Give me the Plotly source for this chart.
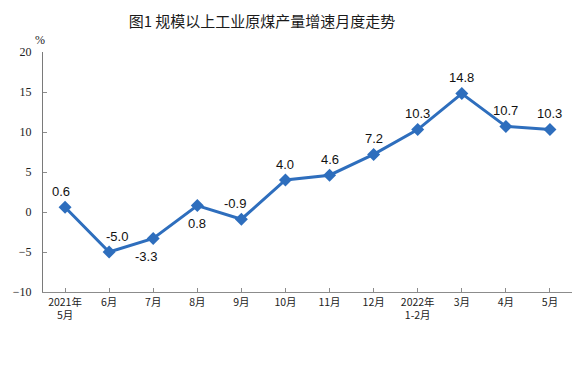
import plotly.graph_objects as go

categories = ["2021年<br>5月", "6月", "7月", "8月", "9月", "10月", "11月", "12月",
              "2022年<br>1-2月", "3月", "4月", "5月"]
values = [0.6, -5.0, -3.3, 0.8, -0.9, 4.0, 4.6, 7.2, 10.3, 14.8, 10.7, 10.3]
label_pos = ["above", "above", "below", "below", "above", "above", "above",
             "above", "above", "above", "above", "above"]
label_dx = [-4, 8, -7, 0, -6, 0, 0, 0, 0, 0, 0, 0]
y_ticks = [-10, -5, 0, 5, 10, 15, 20]

W, H = 579, 368
L, R, T, B = 43, 7, 52, 76
PW, PH = W - L - R, H - T - B

fig = go.Figure()
x_idx = list(range(len(categories)))
fig.add_trace(go.Scatter(
    x=x_idx, y=values, mode="lines+markers",
    line=dict(color="#2E6EBD", width=3),
    marker=dict(symbol="diamond", size=10, color="#2E6EBD"),
    hoverinfo="skip", showlegend=False,
))

for i, v in enumerate(values):
    up = label_pos[i] == "above"
    fig.add_annotation(
        x=i, y=v, xref="x", yref="y", text=f"{v:.1f}", showarrow=False,
        yshift=16 if up else -18, xshift=label_dx[i],
        font=dict(family="Liberation Sans, Arial", size=13, color="#111111"),
    )

fig.add_annotation(
    x=(40 - L) / PW, y=(H - 40 - B) / PH, xref="paper", yref="paper",
    text="%", showarrow=False, xanchor="center", yanchor="middle",
    font=dict(family="Liberation Serif", size=12, color="#222"),
)

fig.update_layout(
    width=W, height=H,
    margin=dict(l=L, r=R, t=T, b=B, autoexpand=False),
    paper_bgcolor="white", plot_bgcolor="white",
    title=dict(text="图1 规模以上工业原煤产量增速月度走势", x=262 / W, xanchor="center",
               y=1 - 22 / H, yanchor="middle",
               font=dict(family="Noto Sans CJK SC", size=15, color="#1a1a1a")),
    xaxis=dict(
        range=[-0.5, len(categories) - 0.5], automargin=False,
        tickmode="array", tickvals=x_idx, ticktext=categories,
        showline=True, linecolor="#8c8c8c", linewidth=1,
        ticks="inside", ticklen=4, tickcolor="#8c8c8c", tickson="boundaries",
        showgrid=False, zeroline=False,
        tickfont=dict(family="Noto Sans CJK SC", size=10.5, color="#222"),
    ),
    yaxis=dict(
        range=[-10, 20], automargin=False, tickmode="array", tickvals=y_ticks,
        showline=True, linecolor="#7a7a7a", linewidth=1,
        ticks="inside", ticklen=4, tickcolor="#8c8c8c",
        showgrid=False, zeroline=False,
        tickfont=dict(family="Liberation Serif", size=12, color="#222"),
        ticklabelstandoff=8,
    ),
)

fig.write_html("out.html", config={"displayModeBar": False, "staticPlot": True},
               post_script="document.body.style.margin='0';document.body.style.padding='0';")
